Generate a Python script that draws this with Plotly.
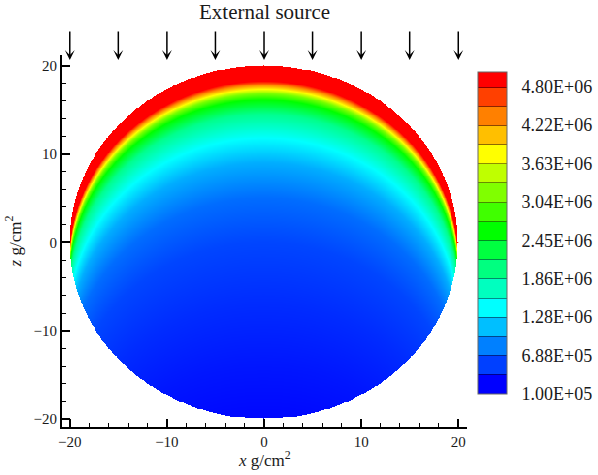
import numpy as np
import plotly.graph_objects as go

# ---- data ----
# flux profile along the beam (depth below the irradiated top surface, g/cm^2)
depth = [0.0, 1.0, 1.8, 2.2, 2.7, 3.2, 3.9, 5.5, 8.2, 11.0, 15.0, 20.0, 27.0, 34.0, 41.0]
flux = [5.03e6, 4.95e6, 4.80e6, 4.20e6, 3.63e6, 3.00e6, 2.45e6, 1.80e6, 1.28e6,
        0.90e6, 0.60e6, 0.42e6, 0.30e6, 0.20e6, 0.12e6]
radius = 20.0

cb_tickvals = [1.00e5, 6.88e5, 1.28e6, 1.86e6, 2.45e6, 3.04e6, 3.63e6, 4.22e6, 4.80e6]
cb_ticktext = ["1.00E+05", "6.88E+05", "1.28E+06", "1.86E+06", "2.45E+06",
               "3.04E+06", "3.63E+06", "4.22E+06", "4.80E+06"]
level_min, level_max, n_levels = 1.0e5, 4.8e6, 16
cb_top = 5.03e6
band_colors = ["#0000ff", "#0040ff", "#0080ff", "#00bfff", "#00ffff", "#00ffbf",
               "#00ff80", "#00ff40", "#00ff00", "#40ff00", "#80ff00", "#bfff00",
               "#ffff00", "#ffbf00", "#ff8000", "#ff4000", "#ff0000"]
arrow_x = [-20, -15, -10, -5, 0, 5, 10, 15, 20]
x_ticks = [-20, -10, 0, 10, 20]
z_ticks = [-20, -10, 0, 10, 20]

FONT = "Liberation Serif"
INK = "#1a1a1a"

# ---- field on a grid: flux as a function of depth below the top surface ----
xs = np.linspace(-radius, radius, 401)
zs = np.linspace(-radius, radius, 401)
X, Z = np.meshgrid(xs, zs)
inside = X**2 + Z**2 <= radius**2
surf = np.sqrt(np.clip(radius**2 - X**2, 0, None))
D = surf - Z
field = np.interp(D, depth, flux)
field = np.where(inside, field, np.nan)

rainbow = [[0.0, "#0000ff"], [0.25, "#00ffff"], [0.5, "#00ff00"],
           [0.75, "#ffff00"], [1.0, "#ff0000"]]

# stepped colour scale for the legend bar, with thin dark separators
cs = (level_max - level_min) / n_levels
bounds = [level_min + k * cs for k in range(n_levels + 1)] + [cb_top]


def frac(v):
    return (v - level_min) / (cb_top - level_min)


def darken(h, f=0.55):
    r, g, b = int(h[1:3], 16), int(h[3:5], 16), int(h[5:7], 16)
    return "rgb(%d,%d,%d)" % (r * f, g * f, b * f)


eps = 0.0016
step_scale = [[0.0, band_colors[0]]]
for k in range(1, len(band_colors)):
    p = frac(bounds[k])
    dark = darken(band_colors[k - 1]) if k < 9 else darken(band_colors[k])
    step_scale += [[p - eps, band_colors[k - 1]], [p - eps, dark],
                   [p + eps, dark], [p + eps, band_colors[k]]]
step_scale.append([1.0, band_colors[-1]])

fig = go.Figure()
fig.add_trace(go.Heatmap(
    x=xs, y=zs, z=field, colorscale=rainbow, zmin=level_min, zmax=level_max,
    showscale=False, hoverinfo="skip", zsmooth=False,
))
# legend-bar carrier (drawn off-range on hidden overlay axes)
fig.add_trace(go.Heatmap(
    x=[0, 1], y=[0], z=[[level_min, cb_top]], xaxis="x2", yaxis="y2",
    colorscale=step_scale, zmin=level_min, zmax=cb_top, hoverinfo="skip",
    colorbar=dict(
        x=(478 - 62) / 405, xanchor="left", xpad=0,
        y=(427 - 233) / 372, yanchor="middle", ypad=0,
        thickness=29, len=322, lenmode="pixels",
        tickvals=cb_tickvals, ticktext=cb_ticktext,
        ticks="outside", ticklen=11, tickcolor="rgba(0,0,0,0)",
        tickfont=dict(family=FONT, size=18, color=INK),
        outlinewidth=1, outlinecolor="#666",
    ),
))

axis_common = dict(
    showline=True, linewidth=2, linecolor="black", mirror=False,
    ticks="inside", ticklen=8, tickwidth=2, tickcolor="black",
    showgrid=False, zeroline=False,
    tickfont=dict(family=FONT, size=15, color=INK),
    minor=dict(dtick=2, ticks="inside", ticklen=4, tickwidth=1, tickcolor="black"),
)
fig.update_layout(
    width=598, height=475,
    margin=dict(l=62, r=131, t=55, b=48, autoexpand=False),
    paper_bgcolor="white", plot_bgcolor="white",
    xaxis=dict(range=[-20.8, 20.9], tickvals=x_ticks, **axis_common),
    yaxis=dict(range=[-20.9, 21.2], tickvals=z_ticks,
               title=dict(text="<i>z</i> g/cm<sup>2</sup>",
                          font=dict(family=FONT, size=17, color=INK), standoff=8),
               **axis_common),
    xaxis2=dict(overlaying="x", visible=False, range=[10, 11]),
    yaxis2=dict(overlaying="y", visible=False, range=[10, 11]),
    showlegend=False,
)

fig.add_annotation(text="<i>x</i> g/cm<sup>2</sup>", x=0, xref="x",
                   y=(427 - 459) / 372, yref="paper", showarrow=False,
                   yanchor="middle", font=dict(family=FONT, size=17, color=INK))
fig.add_annotation(text="External source", x=0, xref="x", y=(427 - 12) / 372,
                   yref="paper", showarrow=False, yanchor="middle",
                   font=dict(family=FONT, size=21, color=INK))
for ax_ in arrow_x:
    fig.add_annotation(text="", x=ax_, xref="x", y=(427 - 60) / 372, yref="paper",
                       showarrow=True, ax=0, ay=-30, arrowhead=3, arrowsize=1.1,
                       arrowwidth=1.5, arrowcolor="black")

fig.write_html("out.html")
